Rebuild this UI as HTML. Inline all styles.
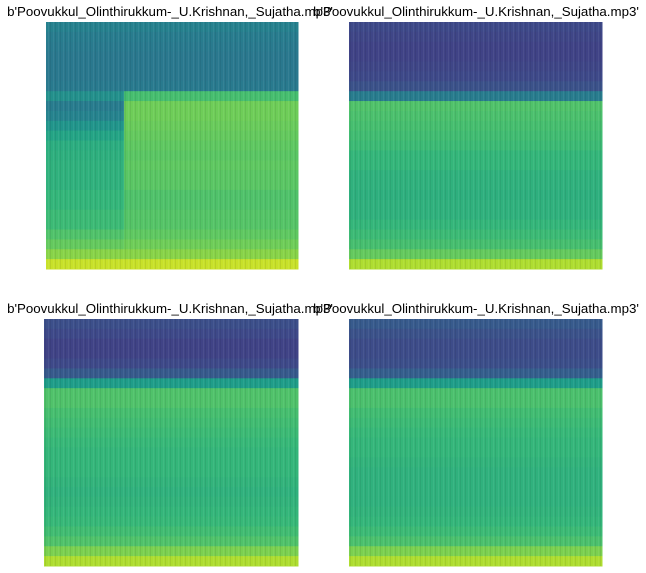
<!DOCTYPE html>
<html><head><meta charset="utf-8"><style>
body{margin:0;background:#fff;width:646px;height:573px;overflow:hidden}
svg{display:block}
text{font-family:"Liberation Sans","DejaVu Sans",sans-serif;font-size:13.3px;fill:#000}
</style></head><body>
<svg id="fig" width="646" height="573">
<defs>
<pattern id="stripes" width="5" height="4" patternUnits="userSpaceOnUse">
<rect x="0" y="0" width="1" height="4" fill="rgba(0,0,0,0.07)"/>
<rect x="3" y="0" width="1" height="4" fill="rgba(255,255,255,0.06)"/>
</pattern>
</defs>
</svg>
<script>
// per-panel row intensities (0..1 viridis), top to bottom; segments = column ranges
const titles = ["b'Poovukkul_Olinthirukkum-_U.Krishnan,_Sujatha.mp3'","b'Poovukkul_Olinthirukkum-_U.Krishnan,_Sujatha.mp3'","b'Poovukkul_Olinthirukkum-_U.Krishnan,_Sujatha.mp3'","b'Poovukkul_Olinthirukkum-_U.Krishnan,_Sujatha.mp3'"];
const tlMain = [0.44,0.42,0.41,0.40,0.40,0.40,0.41,0.70,0.78,0.78,0.77,0.76,0.75,0.74,0.75,0.74,0.74,0.72,0.72,0.73,0.73,0.75,0.78,0.82,0.92];
const tlLeft = [0.44,0.42,0.41,0.40,0.40,0.40,0.41,0.50,0.42,0.45,0.52,0.58,0.62,0.63,0.64,0.64,0.64,0.66,0.66,0.68,0.68,0.72,0.76,0.82,0.92];
const trMain = [0.22,0.21,0.20,0.20,0.21,0.22,0.25,0.42,0.72,0.71,0.70,0.69,0.68,0.66,0.66,0.64,0.64,0.63,0.64,0.64,0.66,0.68,0.70,0.76,0.88];
const blMain = [0.24,0.22,0.20,0.20,0.22,0.28,0.55,0.72,0.72,0.70,0.69,0.68,0.67,0.66,0.66,0.66,0.65,0.64,0.65,0.66,0.67,0.69,0.72,0.80,0.88];
const brMain = [0.28,0.25,0.23,0.23,0.24,0.30,0.55,0.71,0.71,0.69,0.68,0.67,0.66,0.66,0.65,0.64,0.64,0.64,0.64,0.65,0.66,0.68,0.71,0.80,0.88];
const panels = [
 {x:46,y:22,w:252,h:247,tx:170,ty:16,segs:[[0,0.31,tlLeft],[0.31,1,tlMain]]},
 {x:349,y:22,w:253,h:247,tx:476,ty:16,segs:[[0,1,trMain]]},
 {x:44,y:319,w:254,h:247,tx:170,ty:313,segs:[[0,1,blMain]]},
 {x:349,y:319,w:253,h:247,tx:476,ty:313,segs:[[0,1,brMain]]}
];
const stops=[[68,1,84],[72,40,120],[62,74,137],[49,104,142],[38,130,142],[31,158,137],[53,183,121],[109,205,89],[180,222,44],[253,231,37]];
function viridis(v){v=Math.max(0,Math.min(1,v));const p=v*(stops.length-1),i=Math.min(stops.length-2,Math.floor(p)),f=p-i;const a=stops[i],b=stops[i+1];return `rgb(${a.map((c,k)=>Math.round(c+(b[k]-c)*f)).join(',')})`;}
const svg=document.getElementById('fig');const NS='http://www.w3.org/2000/svg';
panels.forEach((p,pi)=>{
 const g=document.createElementNS(NS,'g');
 
 
 svg.appendChild(g);
 p.segs.forEach(s=>{
  const rows=s[2],rh=p.h/rows.length;
  rows.forEach((v,ri)=>{
   const r=document.createElementNS(NS,'rect');
   const x0=p.x+s[0]*p.w;
   r.setAttribute('x',x0);r.setAttribute('y',p.y+ri*rh);r.setAttribute('width',(s[1]-s[0])*p.w+0.5);r.setAttribute('height',rh+0.5);
   r.setAttribute('fill',viridis(v));
   
   
   g.appendChild(r);
  });
 });
 const o=document.createElementNS(NS,'rect');
 o.setAttribute('x',p.x);o.setAttribute('y',p.y);o.setAttribute('width',p.w);o.setAttribute('height',p.h);o.setAttribute('fill','url(#stripes)');
 
 
 g.appendChild(o);
});
panels.forEach((p,pi)=>{
 const t=document.createElementNS(NS,'text');
 t.setAttribute('x',p.tx);t.setAttribute('y',p.ty);t.setAttribute('text-anchor','middle');t.textContent=titles[pi];
 
 
 svg.appendChild(t);
});
</script>
</body></html>
